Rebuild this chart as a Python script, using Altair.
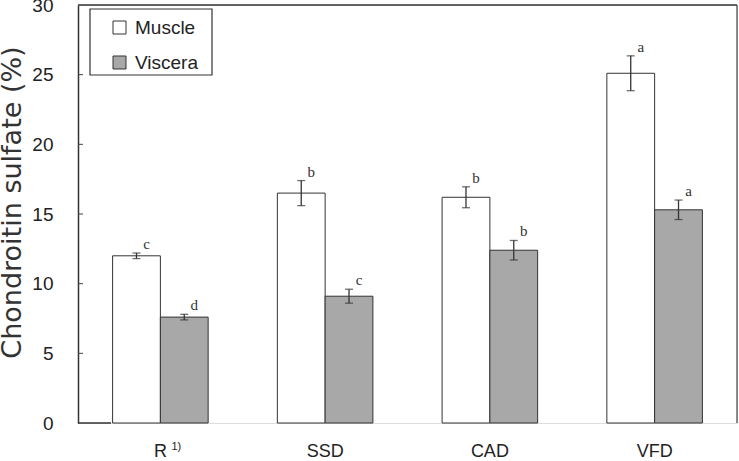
import altair as alt
import pandas as pd

# Chondroitin sulfate content by drying method
categories = ["R", "SSD", "CAD", "VFD"]
muscle = [12.0, 16.5, 16.2, 25.1]
muscle_err = [0.2, 0.9, 0.75, 1.25]
muscle_sig = ["c", "b", "b", "a"]
viscera = [7.6, 9.1, 12.4, 15.3]
viscera_err = [0.2, 0.5, 0.7, 0.7]
viscera_sig = ["d", "c", "b", "a"]
series = ["Muscle", "Viscera"]
y_ticks = [5, 10, 15, 20, 25]

rows = []
for i, c in enumerate(categories):
    rows.append({"cat": c, "part": "Muscle", "val": muscle[i], "err": muscle_err[i], "sig": muscle_sig[i]})
    rows.append({"cat": c, "part": "Viscera", "val": viscera[i], "err": viscera_err[i], "sig": viscera_sig[i]})
df = pd.DataFrame(rows)
df["lo"] = df["val"] - df["err"]
df["hi"] = df["val"] + df["err"]

W, H = 659, 418
FONT = "Liberation Sans"

x_enc = alt.X(
    "cat:N",
    sort=categories,
    scale=alt.Scale(paddingInner=0.42, paddingOuter=0.21),
    axis=alt.Axis(title=None, labelAngle=0, labelFontSize=18, labelFont=FONT,
                  labelColor="#222", labelPadding=19, domain=False, ticks=False),
)
xo_enc = alt.XOffset("part:N", sort=series, scale=alt.Scale(paddingInner=0, paddingOuter=0))
y_scale = alt.Scale(domain=[0, 30], nice=False)

one = alt.Chart(pd.DataFrame({"k": [0]}))

# legend frame drawn beneath the legend entries
legend_box = one.mark_rect(fill="white", stroke="#333", strokeWidth=1.2).encode(
    x=alt.value(12), x2=alt.value(134), y=alt.value(4), y2=alt.value(70))

base = alt.Chart(df)

bars = base.mark_bar(stroke="#333", strokeWidth=1).encode(
    x=x_enc,
    xOffset=xo_enc,
    y=alt.Y("val:Q", scale=y_scale, axis=alt.Axis(
        values=[0, 5, 10, 15, 20, 25, 30], title="Chondroitin sulfate (%)",
        titleFont="DejaVu Sans", titleFontSize=27, titleFontWeight="normal",
        titleColor="#333", titleX=-58, titleY=197, titleBaseline="alphabetic",
        titleAngle=-90, titleAlign="center",
        labelFontSize=19, labelFont=FONT, labelColor="#222", labelPadding=25,
        ticks=False, grid=False, domainColor="#333", domainWidth=1.5)),
    color=alt.Color("part:N", sort=series,
                    scale=alt.Scale(domain=series, range=["#ffffff", "#a8a8a8"]),
                    legend=alt.Legend(title=None, orient="none", legendX=32, legendY=13,
                                      symbolType="square", symbolSize=169,
                                      symbolStrokeColor="#333", symbolStrokeWidth=1,
                                      labelFontSize=19, labelFont=FONT, labelColor="#222",
                                      rowPadding=15, padding=0, labelOffset=6)),
)

err_rule = base.mark_rule(color="#333", strokeWidth=1.3).encode(
    x=alt.X("cat:N", sort=categories), xOffset=xo_enc,
    y=alt.Y("lo:Q", scale=y_scale), y2="hi:Q",
)
cap_lo = base.mark_tick(color="#333", thickness=1.3, size=8).encode(
    x=alt.X("cat:N", sort=categories), xOffset=xo_enc,
    y=alt.Y("lo:Q", scale=y_scale),
)
cap_hi = base.mark_tick(color="#333", thickness=1.3, size=8).encode(
    x=alt.X("cat:N", sort=categories), xOffset=xo_enc,
    y=alt.Y("hi:Q", scale=y_scale),
)
sig = base.mark_text(font="Liberation Serif", fontSize=15, color="#333",
                     align="center", baseline="bottom", dx=10, dy=-1).encode(
    x=alt.X("cat:N", sort=categories), xOffset=xo_enc,
    y=alt.Y("hi:Q", scale=y_scale),
    text="sig:N",
)

# inward y-axis ticks
tick_df = pd.DataFrame({"t": y_ticks})
inner_ticks = alt.Chart(tick_df).mark_rule(color="#444", strokeWidth=1).encode(
    x=alt.value(0), x2=alt.value(5), y=alt.Y("t:Q", scale=y_scale),
)

top_border = one.mark_rule(color="#333", strokeWidth=1.5).encode(
    x=alt.value(0), x2=alt.value(W), y=alt.value(0))
right_border = one.mark_rule(color="#444", strokeWidth=1.2).encode(
    x=alt.value(W), y=alt.value(0), y2=alt.value(H))
bottom_stub = one.mark_rule(color="#333", strokeWidth=1.5).encode(
    x=alt.value(0), x2=alt.value(33), y=alt.value(H))

footnote = alt.Chart(pd.DataFrame({"cat": ["R"], "note": ["1)"]})).mark_text(
    font=FONT, fontSize=11, color="#222", align="left", baseline="middle", dx=11
).encode(
    x=alt.X("cat:N", sort=categories),
    y=alt.value(442),
    text="note:N",
)

chart = alt.layer(
    legend_box, bars, err_rule, cap_lo, cap_hi, sig, inner_ticks,
    top_border, right_border, bottom_stub, footnote,
).properties(
    width=W, height=H,
    autosize=alt.AutoSizeParams(type="none"),
    padding={"left": 78, "top": 5, "right": 2, "bottom": 38},
).configure_view(stroke=None).configure(background="white")

chart.save("out.html", embed_options={"renderer": "svg", "actions": False})
